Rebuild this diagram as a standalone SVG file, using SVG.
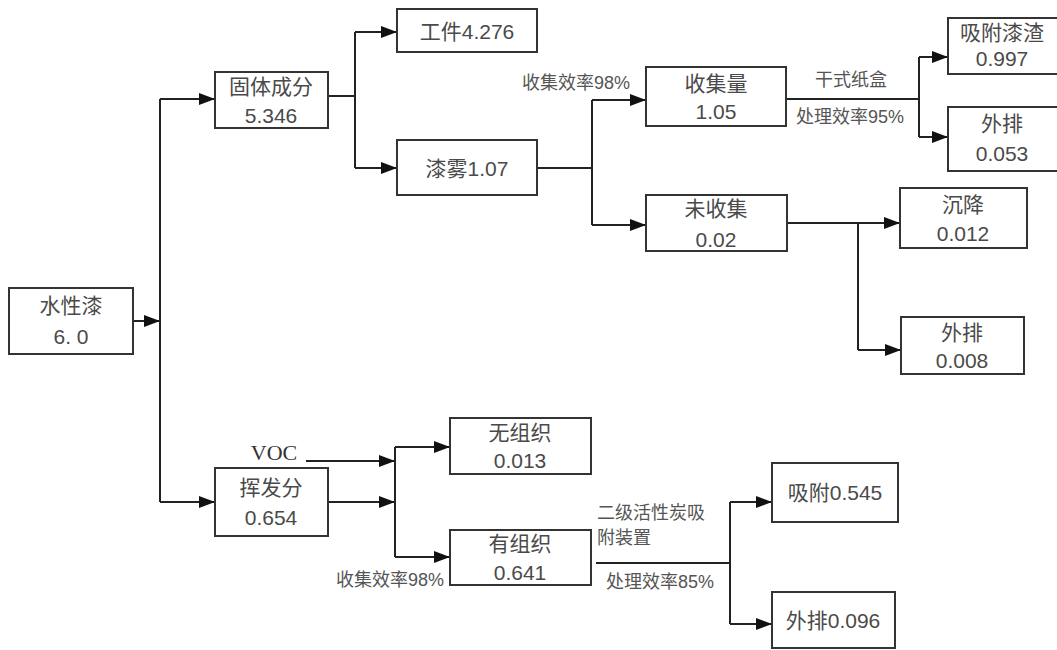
<svg xmlns="http://www.w3.org/2000/svg" width="1057" height="650" viewBox="0 0 1057 650">
<style>
.box{fill:#fff;stroke:#333;stroke-width:2}
.t{font-family:"Liberation Sans","Noto Sans CJK SC",sans-serif;font-size:21px;fill:#4a4a4a;text-anchor:middle;dominant-baseline:central}
.l{font-family:"Liberation Sans","Noto Sans CJK SC",sans-serif;font-size:18px;fill:#555;text-anchor:middle;dominant-baseline:central}
.voc{font-family:"Liberation Serif",serif;font-size:22px;fill:#333;text-anchor:middle;dominant-baseline:central}
.c{fill:none;stroke:#222;stroke-width:2}
.a{fill:none;stroke:#222;stroke-width:2;marker-end:url(#arr)}
</style>
<defs>
<marker id="arr" markerUnits="userSpaceOnUse" markerWidth="16" markerHeight="12" refX="16" refY="6" orient="auto">
<path d="M0,0 L16,6 L0,12 z" fill="#111"/>
</marker>
</defs>
<rect width="1057" height="650" fill="#fff"/>
<g id="connectors">
<path class="a" d="M133,321 H160"/>
<path class="c" d="M160,99 V502"/>
<path class="a" d="M160,99 H215"/>
<path class="a" d="M160,502 H215"/>
<path class="c" d="M328,96 H355 M355,32 V168"/>
<path class="a" d="M355,32 H397"/>
<path class="a" d="M355,168 H397"/>
<path class="c" d="M537,168 H592 M592,100 V225"/>
<path class="a" d="M592,100 H646"/>
<path class="a" d="M592,225 H646"/>
<path class="c" d="M786,99 H919 M919,57 V137"/>
<path class="a" d="M919,57 H948"/>
<path class="a" d="M919,137 H948"/>
<path class="a" d="M787,223 H900"/>
<path class="c" d="M858,223 V350"/>
<path class="a" d="M858,350 H901"/>
<path class="a" d="M306,461 H395"/>
<path class="a" d="M328,502 H395"/>
<path class="c" d="M395,447 V557"/>
<path class="a" d="M395,447 H450"/>
<path class="a" d="M395,557 H450"/>
<path class="c" d="M596,563 H730 M730,502 V624"/>
<path class="a" d="M730,502 H772"/>
<path class="a" d="M730,624 H772"/>
</g>
<g id="labels">
<text class="l" x="576" y="83">收集效率98%</text>
<text class="l" x="851" y="80">干式纸盒</text>
<text class="l" x="850" y="117">处理效率95%</text>
<text class="voc" x="274" y="452">VOC</text>
<text class="l" x="390" y="580">收集效率98%</text>
<text class="l" x="597" y="513" style="text-anchor:start">二级活性炭吸</text>
<text class="l" x="597" y="538" style="text-anchor:start">附装置</text>
<text class="l" x="660" y="582">处理效率85%</text>
</g>
<g id="n_waterpaint"><rect class="box" x="9" y="288" width="124" height="66"/><text class="t" x="71" y="305">水性漆</text><text class="t" x="71" y="336">6. 0</text></g>
<g id="n_solid"><rect class="box" x="215" y="72" width="113" height="56"/><text class="t" x="271" y="86">固体成分</text><text class="t" x="271" y="115">5.346</text></g>
<g id="n_workpiece"><rect class="box" x="397" y="9" width="140" height="43"/><text class="t" x="467" y="31">工件4.276</text></g>
<g id="n_mist"><rect class="box" x="397" y="140" width="140" height="55"/><text class="t" x="467" y="168">漆雾1.07</text></g>
<g id="n_collected"><rect class="box" x="646" y="67" width="140" height="59"/><text class="t" x="716" y="83">收集量</text><text class="t" x="716" y="111">1.05</text></g>
<g id="n_residue"><rect class="box" x="948" y="18" width="112" height="56"/><text class="t" x="1002" y="32">吸附漆渣</text><text class="t" x="1002" y="58">0.997</text></g>
<g id="n_exhaust1"><rect class="box" x="948" y="107" width="112" height="64"/><text class="t" x="1002" y="123">外排</text><text class="t" x="1002" y="153">0.053</text></g>
<g id="n_uncollected"><rect class="box" x="646" y="195" width="141" height="56"/><text class="t" x="716" y="208">未收集</text><text class="t" x="716" y="239">0.02</text></g>
<g id="n_settle"><rect class="box" x="900" y="188" width="127" height="60"/><text class="t" x="963" y="204">沉降</text><text class="t" x="963" y="233">0.012</text></g>
<g id="n_exhaust2"><rect class="box" x="901" y="317" width="123" height="57"/><text class="t" x="962" y="332">外排</text><text class="t" x="962" y="360">0.008</text></g>
<g id="n_volatile"><rect class="box" x="215" y="468" width="113" height="68"/><text class="t" x="271" y="487">挥发分</text><text class="t" x="271" y="517">0.654</text></g>
<g id="n_fugitive"><rect class="box" x="450" y="418" width="141" height="56"/><text class="t" x="520" y="432">无组织</text><text class="t" x="520" y="460">0.013</text></g>
<g id="n_organized"><rect class="box" x="450" y="530" width="141" height="55"/><text class="t" x="520" y="543">有组织</text><text class="t" x="520" y="572">0.641</text></g>
<g id="n_adsorb"><rect class="box" x="772" y="463" width="126" height="59"/><text class="t" x="835" y="492">吸附0.545</text></g>
<g id="n_exhaust3"><rect class="box" x="772" y="592" width="123" height="56"/><text class="t" x="833" y="620">外排0.096</text></g>
</svg>
